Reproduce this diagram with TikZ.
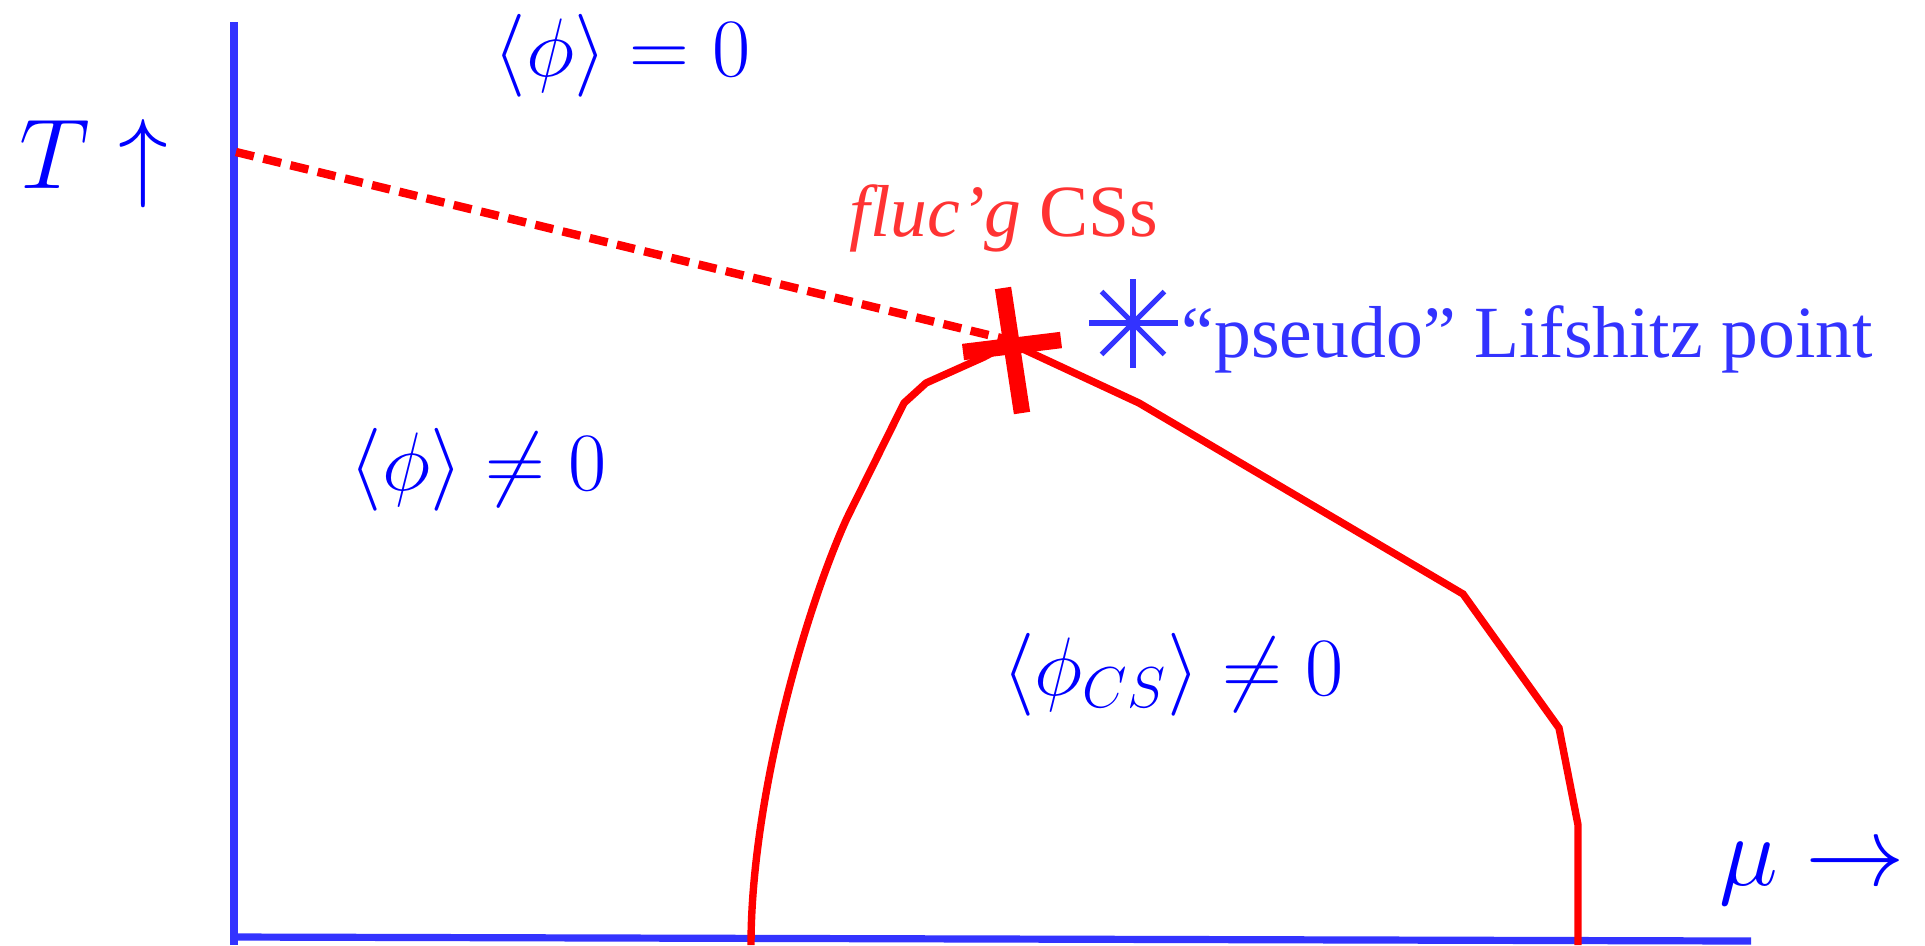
\documentclass[tikz,border=0pt]{standalone}
\usepackage{fontspec}
\setmainfont{Liberation Serif}
\newfontfamily\tnr{Liberation Serif}
\definecolor{axblue}{RGB}{51,51,255}
\definecolor{txtblue}{RGB}{0,0,255}
\definecolor{lred}{RGB}{255,51,51}
\begin{document}
\begin{tikzpicture}[x=0.25pt,y=-0.25pt,
  axisline/.style={draw=axblue,line width=1.8pt},
  phase/.style={draw=red,line width=1.85pt},
  crossbar/.style={draw=red,line width=4.1pt},
  dashline/.style={draw=red,line width=2.1pt,dash pattern=on 4.6pt off 2.4pt},
  astline/.style={draw=axblue,line width=1.3pt},
  mlab/.style={text=txtblue,inner sep=0pt,anchor=base,font=\fontsize{21.5}{26}\selectfont},
  biglab/.style={text=txtblue,inner sep=0pt,anchor=base,font=\fontsize{26.25}{31}\selectfont},
  tlab/.style={inner sep=0pt,anchor=base,font=\tnr\fontsize{18.4}{22}\selectfont}]
\useasboundingbox (0,0) rectangle (1925,945);

% axes
\coordinate (ytop) at (234,22);
\coordinate (ybot) at (234,945);
\coordinate (xstart) at (234,937);
\coordinate (xend) at (1751,941);
\draw[axisline] (ytop) -- (ybot);
\draw[axisline] (xstart) -- (xend);

% dashed line
\coordinate (dstart) at (236,152);
\coordinate (dend) at (1005,339);
\draw[dashline] (dstart) -- (dend);

% phase boundary
\coordinate (c0) at (751,945);
\coordinate (c1) at (847,518);
\coordinate (c2) at (904,403);
\coordinate (c3) at (926,383);
\coordinate (c4) at (984,357);
\coordinate (c5) at (1010,343);
\coordinate (c6) at (1139,403);
\coordinate (c7) at (1463,594);
\coordinate (c8) at (1559,728);
\coordinate (c9) at (1578,825);
\coordinate (c10) at (1578,945);
\draw[phase] (c0) .. controls (751,800) and (805,610) .. (c1) -- (c2) -- (c3) -- (c4) -- (c5) -- (c6) -- (c7) -- (c8) -- (c9) -- (c10);

% cross
\coordinate (v1) at (1003,288);
\coordinate (v2) at (1022,413);
\coordinate (h1) at (963,352);
\coordinate (h2) at (1061,340);
\draw[crossbar] (v1) -- (v2);
\draw[crossbar] (h1) -- (h2);

% asterisk
\coordinate (ast) at (1133,323);
\foreach \a in {0,45,...,315} \draw[astline] (ast) -- ++(\a:44.5);

% labels
\node[mlab] (zero) at (622,76) {$\langle\phi\rangle = 0$};
\node[mlab] (nonzero) at (478,490) {$\langle\phi\rangle \neq 0$};
\node[mlab] (csnonzero) at (1173,695) {$\langle\phi_{CS}\rangle \neq 0$};
\node[biglab] (tlabel) at (94,188) {$T\uparrow$};
\node[biglab] (mulabel) at (1812,885) {$\mu\rightarrow$};
\node[tlab,text=lred] (fluc) at (1004,236) {\itshape fluc’g\/ \upshape CSs};
\node[tlab,text=axblue,anchor=base west] (lif) at (1181,357) {“pseudo” Lifshitz point};
\end{tikzpicture}
\end{document}
